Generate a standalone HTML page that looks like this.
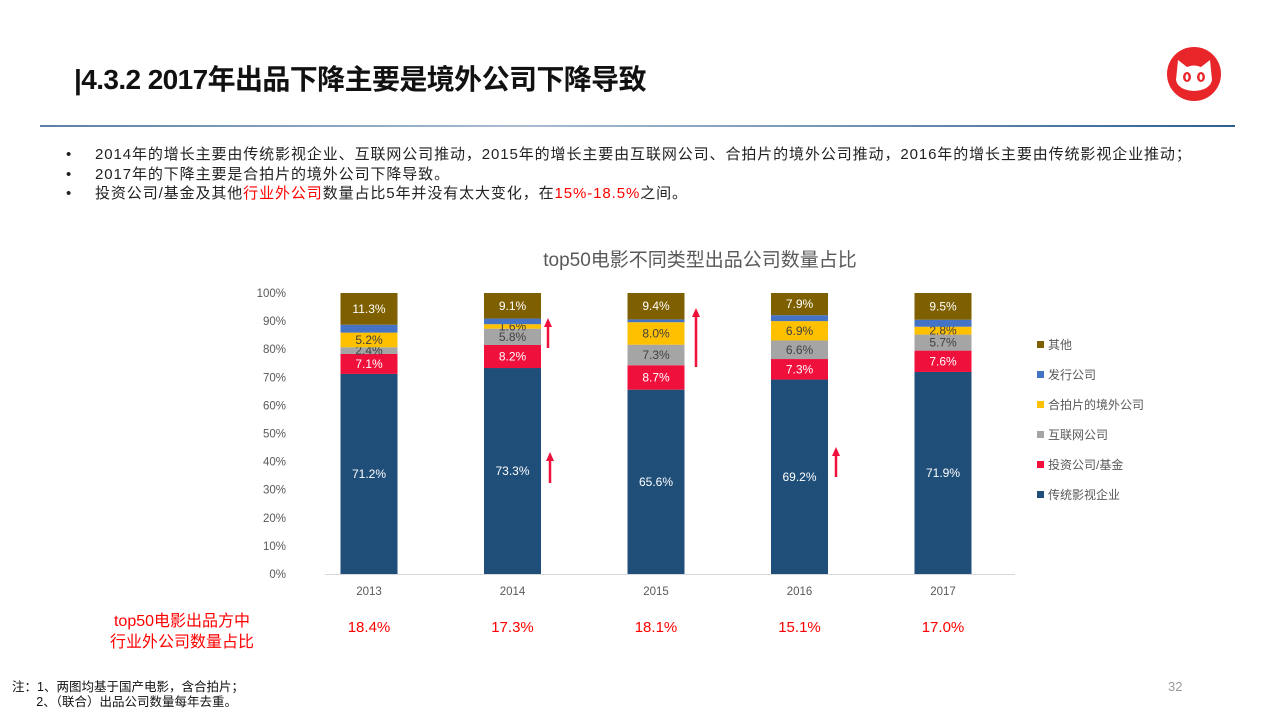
<!DOCTYPE html>
<html><head><meta charset="utf-8">
<style>
body{margin:0;width:1280px;height:720px;background:#fff;overflow:hidden;position:relative;font-family:"Liberation Sans","Noto Sans CJK SC",sans-serif;}
.abs{position:absolute;white-space:nowrap;}
</style></head><body>
<div class="abs" style="left:74px;top:58px;font-size:28px;font-weight:bold;color:#111;letter-spacing:-0.6px">|4.3.2 2017年出品下降主要是境外公司下降导致</div>
<div class="abs" style="left:40px;top:125px;width:1195px;height:2px;background:linear-gradient(90deg,#5b7fa6,#a9bdd1 40%,#6d8fb3 70%,#2f5f8f)"></div>
<svg class="abs" style="left:1166px;top:46px" width="56" height="56" viewBox="0 0 56 56">
<circle cx="28" cy="28" r="27" fill="#e8262a"/>
<path d="M10 34 L12 14 L21 21 Q28 18 35 21 L44 14 L46 34 Q44 44 28 45 Q12 44 10 34Z" fill="#fff"/>
<ellipse cx="21" cy="31" rx="4" ry="5" fill="#e8262a"/><ellipse cx="35" cy="31" rx="4" ry="5" fill="#e8262a"/>
<ellipse cx="21" cy="31" rx="1.5" ry="3" fill="#fff"/><ellipse cx="35" cy="31" rx="1.5" ry="3" fill="#fff"/>
</svg>
<div style="position:absolute;left:66px;top:145px;font-size:15px;color:#222;line-height:19.5px;letter-spacing:0.9px">
<div><span style="display:inline-block;width:29px;letter-spacing:0">•</span>2014年的增长主要由传统影视企业、互联网公司推动，2015年的增长主要由互联网公司、合拍片的境外公司推动，2016年的增长主要由传统影视企业推动；</div>
<div><span style="display:inline-block;width:29px;letter-spacing:0">•</span>2017年的下降主要是合拍片的境外公司下降导致。</div>
<div><span style="display:inline-block;width:29px;letter-spacing:0">•</span>投资公司/基金及其他<span style="color:#f00">行业外公司</span>数量占比5年并没有太大变化，在<span style="color:#f00">15%-18.5%</span>之间。</div>
</div>
<svg id="chart" class="abs" style="left:0;top:0" width="1280" height="720"></svg>
<div class="abs" style="left:110px;top:611px;font-size:16px;color:#f00;line-height:21px;text-align:center">top50电影出品方中<br>行业外公司数量占比</div>
<div class="abs" style="left:12px;top:680px;font-size:12.5px;color:#111;line-height:15px">注：1、两图均基于国产电影，含合拍片；<br>&nbsp;&nbsp;&nbsp;&nbsp;&nbsp;&nbsp;&nbsp;2、（联合）出品公司数量每年去重。</div>
<div class="abs" style="left:1168px;top:679px;font-size:13px;color:#999">32</div>
<script>
const years=["2013","2014","2015","2016","2017"];
const seriesNames=["传统影视企业","投资公司/基金","互联网公司","合拍片的境外公司","发行公司","其他"];
const trad=[71.2,73.3,65.6,69.2,71.9];
const invest=[7.1,8.2,8.7,7.3,7.6];
const internet=[2.4,5.8,7.3,6.6,5.7];
const coprod=[5.2,1.6,8.0,6.9,2.8];
const distrib=[2.8,2.0,1.0,2.1,2.5];
const other=[11.3,9.1,9.4,7.9,9.5];
const outsideShare=["18.4%","17.3%","18.1%","15.1%","17.0%"];
const yTicks=[0,10,20,30,40,50,60,70,80,90,100];
const colors=["#1f4e79","#f0103c","#a5a5a5","#ffc000","#4472c4","#7f6000"];
const labelColors=["#fff","#fff","#404040","#404040",null,"#fff"];
const all=[trad,invest,internet,coprod,distrib,other];
const svg=document.getElementById('chart');const NS="http://www.w3.org/2000/svg";
const y0=574,y1=293;const y=v=>y0-(y0-y1)*v/100;
const x=i=>369+i*143.5;const bw=57;
function mk(t,a,txt){const e=document.createElementNS(NS,t);for(const k in a)e.setAttribute(k,a[k]);if(txt!=null)e.textContent=txt;svg.appendChild(e);return e;}
let e=mk('text',{x:700,y:266,'text-anchor':'middle','font-size':19,fill:'#595959'},'top50电影不同类型出品公司数量占比');


yTicks.forEach(t=>{const l=mk('text',{x:286,y:y(t)+4,'text-anchor':'end','font-size':11.5,fill:'#595959'},t+'%');

});
e=mk('line',{x1:325,x2:1015,y1:y0+0.5,y2:y0+0.5,stroke:'#d9d9d9'});


years.forEach((yr,i)=>{let c=0;
all.forEach((s,k)=>{const v=s[i];const r=mk('rect',{x:x(i)-bw/2,y:y(c+v),width:bw,height:y(c)-y(c+v),fill:colors[k]});


if(labelColors[k]){const t=mk('text',{x:x(i),y:y(c+v/2)+4,'text-anchor':'middle','font-size':12,fill:labelColors[k]},v.toFixed(1)+'%');

}
c+=v;});
const t=mk('text',{x:x(i),y:595,'text-anchor':'middle','font-size':11.5,fill:'#595959'},yr);


const o=mk('text',{x:x(i),y:632,'text-anchor':'middle','font-size':15,fill:'#f00'},outsideShare[i]);


});
for(let k=5;k>=0;k--){const yy=345+(5-k)*30;
const r=mk('rect',{x:1037,y:yy-4,width:7,height:7,fill:colors[k]});


const t=mk('text',{x:1048,y:yy+4,'font-size':12,fill:'#595959'},seriesNames[k]);

}
const arrows=[[548,348,318],[550,483,452],[696,367,308],[836,477,447]];
arrows.forEach(a=>{const g=mk('path',{d:`M${a[0]} ${a[1]} L${a[0]} ${a[2]+8}`,stroke:'#f0103c','stroke-width':2.5});


const h=mk('path',{d:`M${a[0]-4} ${a[2]+9} L${a[0]} ${a[2]} L${a[0]+4} ${a[2]+9}Z`,fill:'#f0103c'});

});
</script>
</body></html>
